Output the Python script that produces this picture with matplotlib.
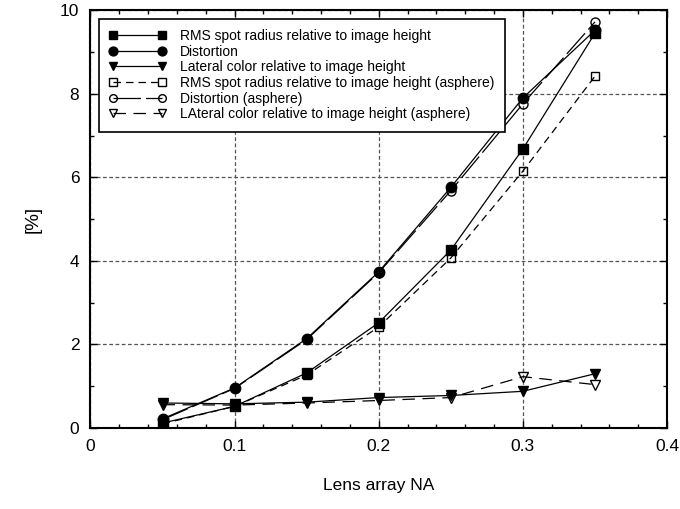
import matplotlib
matplotlib.use("Agg")
from matplotlib import pyplot as plt
from matplotlib.ticker import MultipleLocator

plt.rcParams['font.family'] = ['Liberation Sans', 'DejaVu Sans']

na = [0.05, 0.10, 0.15, 0.20, 0.25, 0.30, 0.35]

rms = [0.12, 0.52, 1.32, 2.52, 4.26, 6.68, 9.45]
dist = [0.22, 0.96, 2.14, 3.74, 5.76, 7.9, 9.52]
lat = [0.6, 0.58, 0.62, 0.73, 0.78, 0.88, 1.30]
rms_asph = [0.10, 0.52, 1.27, 2.42, 4.07, 6.15, 8.42]
dist_asph = [0.20, 0.95, 2.12, 3.72, 5.68, 7.76, 9.72]
lat_asph = [0.56, 0.55, 0.60, 0.66, 0.73, 1.23, 1.04]

labels = ["RMS spot radius relative to image height",
          "Distortion",
          "Lateral color relative to image height",
          "RMS spot radius relative to image height (asphere)",
          "Distortion (asphere)",
          "LAteral color relative to image height (asphere)"]

fig = plt.figure(figsize=(6.8, 5.09), dpi=100)
ax = fig.add_axes([0.133, 0.159, 0.848, 0.821])

lw = 0.9
ax.plot(na, rms, color='k', lw=lw, marker='s', ms=7, label=labels[0])
ax.plot(na, dist, color='k', lw=lw, marker='o', ms=7.5, label=labels[1])
ax.plot(na, lat, color='k', lw=lw, marker='v', ms=7, label=labels[2])
ax.plot(na, rms_asph, color='k', lw=lw, ls=(0, (6, 4)), marker='s', ms=6,
        mfc='none', label=labels[3])
ax.plot(na, dist_asph, color='k', lw=lw, ls=(0, (22, 4)), marker='o', ms=6.5,
        mfc='none', label=labels[4])
ax.plot(na, lat_asph, color='k', lw=lw, ls=(0, (10, 6)), marker='v', ms=6.5,
        mfc='none', label=labels[5])

ax.set_xlim(0, 0.4)
ax.set_ylim(0, 10)
ax.xaxis.set_major_locator(MultipleLocator(0.1))
ax.xaxis.set_minor_locator(MultipleLocator(0.02))
ax.yaxis.set_major_locator(MultipleLocator(2))
ax.yaxis.set_minor_locator(MultipleLocator(1))
ax.set_xticks([0, 0.1, 0.2, 0.3, 0.4])
ax.set_xticklabels(["0", "0.1", "0.2", "0.3", "0.4"])
ax.tick_params(which='both', direction='in', top=True, right=True, labelsize=12.5)
ax.tick_params(which='major', length=5, width=1, pad=8)
ax.tick_params(which='minor', length=3, width=1)
ax.grid(True, which='major', ls=(0, (3, 2)), color='#555555', lw=0.9)
for s in ax.spines.values():
    s.set_linewidth(1.5)

ax.set_xlabel("Lens array NA", fontsize=12.5, labelpad=17)
ax.set_ylabel("[%]", fontsize=13.5, labelpad=13)

leg = ax.legend(loc='upper left', fontsize=10, numpoints=2, handlelength=4.1,
                handletextpad=1.0, labelspacing=0.12, borderaxespad=0.6,
                fancybox=False, framealpha=1, edgecolor='k', borderpad=0.75,
                markerscale=0.85)
leg.get_frame().set_linewidth(1.2)

plt.savefig("out.png", dpi=100)
